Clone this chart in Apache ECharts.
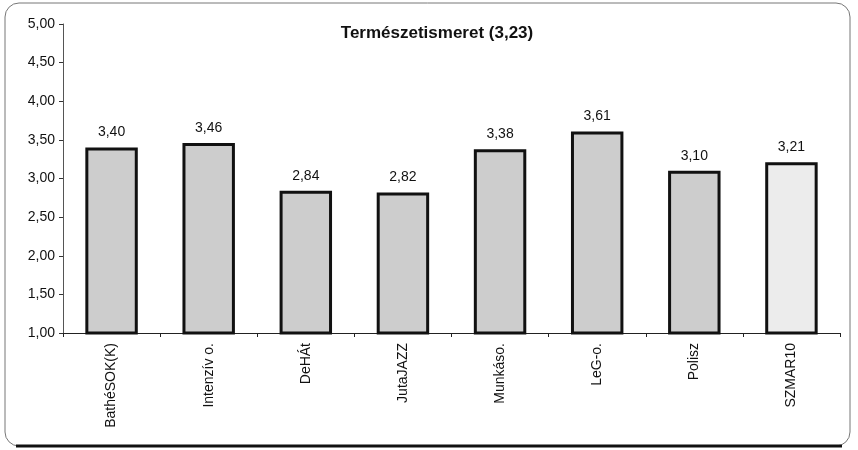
<!DOCTYPE html>
<html>
<head>
<meta charset="utf-8">
<script src="https://cdn.jsdelivr.net/npm/echarts@6/dist/echarts.min.js"></script>
<style>
  html, body { margin: 0; padding: 0; background: #fff; }
  #chart { width: 858px; height: 450px; }
</style>
</head>
<body>
<div id="chart"></div>
<script>
// adatok
const categories = ['BathéSOK(K)', 'Intenzív o.', 'DeHÁt', 'JutaJAZZ', 'Munkáso.', 'LeG-o.', 'Polisz', 'SZMAR10']
const values = [3.40, 3.46, 2.84, 2.82, 3.38, 3.61, 3.10, 3.21]
const titleText = 'Természetismeret (3,23)'

const fmt = (v) => Number(v).toFixed(2).replace('.', ',')

const chart = echarts.init(document.getElementById('chart'))

const option = {
  animation: false,
  backgroundColor: '#fff',
  textStyle: { fontFamily: 'Liberation Sans, Arial, sans-serif' },
  title: {
    text: titleText,
    left: 432,
    textAlign: 'center',
    top: 20,
    textStyle: { fontSize: 17, fontWeight: 'bold', color: '#111' }
  },
  grid: { left: 63, right: 18, top: 24, bottom: 117 },
  xAxis: {
    type: 'category',
    data: categories,
    axisLine: { lineStyle: { color: '#222', width: 1 } },
    axisTick: { show: true, length: 4, lineStyle: { color: '#222' } },
    axisLabel: { rotate: 90, fontSize: 14, color: '#111', margin: 10 }
  },
  yAxis: {
    type: 'value',
    min: 1,
    max: 5,
    interval: 0.5,
    axisLine: { show: true, lineStyle: { color: '#555', width: 1 } },
    axisTick: { show: true, length: 4, lineStyle: { color: '#333' } },
    splitLine: { show: false },
    axisLabel: { fontSize: 14, color: '#111', margin: 8, formatter: fmt }
  },
  series: [{
    type: 'bar',
    data: values.map((v, i) => ({
      value: v,
      itemStyle: { color: i === values.length - 1 ? '#ececec' : '#cdcdcd' }
    })),
    barWidth: '54%',
    itemStyle: { borderColor: '#111', borderWidth: 3 },
    label: {
      show: true,
      position: 'top',
      distance: 8,
      fontSize: 14,
      color: '#111',
      formatter: (p) => fmt(p.value)
    }
  }],
  graphic: [
    {
      type: 'rect',
      shape: { x: 5, y: 3, width: 845, height: 443, r: 14 },
      style: { fill: 'none', stroke: '#777', lineWidth: 1 },
      z: -1
    },
    {
      type: 'line',
      shape: { x1: 16, y1: 446, x2: 842, y2: 446 },
      style: { stroke: '#111', lineWidth: 3 }
    }
  ]
}

chart.setOption(option)
</script>
</body>
</html>
